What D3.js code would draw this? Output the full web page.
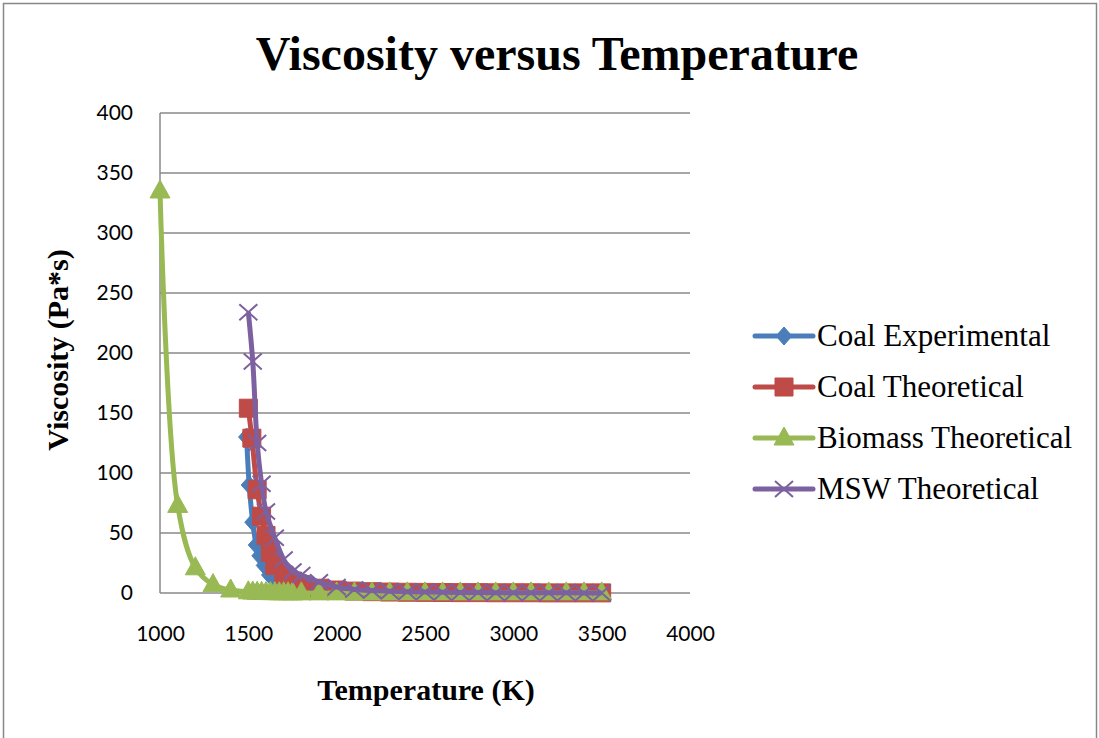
<!DOCTYPE html>
<html>
<head>
<meta charset="utf-8">
<script src="https://cdn.jsdelivr.net/npm/d3@7/dist/d3.min.js"></script>
<style>
  body { margin: 0; background: #fff; }
  svg { display: block; }
</style>
</head>
<body>
<svg id="chart" width="1099" height="738"></svg>
<script>
// chart values
var xTicks = [1000, 1500, 2000, 2500, 3000, 3500, 4000];
var yTicks = [0, 50, 100, 150, 200, 250, 300, 350, 400];

var coalExpT = [1490, 1505, 1525, 1545, 1565, 1590, 1620, 1660, 1700, 1750, 1800];
var coalExpV = [130, 90, 59, 40, 31, 23, 15, 10, 6, 4, 2.5];

var coalThT = [1500, 1520, 1550, 1575, 1600, 1625, 1650, 1700, 1750, 1800,
  1900, 2000, 2100, 2200, 2300, 2400, 2500, 2600, 2700, 2800, 2900, 3000, 3100, 3200, 3300, 3400, 3500];
var coalThV = [154, 129, 86, 64, 48, 34, 23, 15, 10, 7,
  4, 2.5, 1.6, 1.1, 0.8, 0.6, 0.5, 0.4, 0.3, 0.3, 0.2, 0.2, 0.2, 0.1, 0.1, 0.1, 0.1];

var biomassT = [1000, 1100, 1200, 1300, 1400, 1500, 1525, 1550, 1575, 1600, 1625, 1650, 1675, 1700, 1725, 1750,
  1800, 1900, 2000, 2100, 2200, 2300, 2400, 2500, 2600, 2700, 2800, 2900, 3000, 3100, 3200, 3300, 3400, 3500];
var biomassV = [335, 73, 21, 7, 2.5, 1, 0.8, 0.6, 0.5, 0.4, 0.3, 0.3, 0.2, 0.2, 0.2, 0.1,
  0.1, 0.1, 0.1, 0.1, 0.1, 0.1, 0.1, 0.1, 0.1, 0.1, 0.1, 0.1, 0.1, 0.1, 0.1, 0.1, 0.1, 0.1];

var mswT = [1500, 1525, 1550, 1575, 1600, 1650, 1700, 1750, 1800,
  1900, 2000, 2100, 2200, 2300, 2400, 2500, 2600, 2700, 2800, 2900, 3000, 3100, 3200, 3300, 3400, 3500];
var mswV = [234, 193, 125, 91, 68, 46, 28, 18, 15,
  9, 5, 3, 2, 1.4, 1, 0.8, 0.6, 0.5, 0.4, 0.3, 0.3, 0.2, 0.2, 0.2, 0.1, 0.1];

var seriesNames = ['Coal Experimental', 'Coal Theoretical', 'Biomass Theoretical', 'MSW Theoretical'];
var seriesColors = ['#4A7EBB', '#BE4B48', '#98B954', '#7D60A0'];
var seriesMarkers = ['diamond', 'square', 'triangle', 'cross'];

var series = [
  { name: seriesNames[0], t: coalExpT, v: coalExpV, color: seriesColors[0], marker: seriesMarkers[0] },
  { name: seriesNames[1], t: coalThT, v: coalThV, color: seriesColors[1], marker: seriesMarkers[1] },
  { name: seriesNames[2], t: biomassT, v: biomassV, color: seriesColors[2], marker: seriesMarkers[2] },
  { name: seriesNames[3], t: mswT, v: mswV, color: seriesColors[3], marker: seriesMarkers[3] }
];

var svg = d3.select('#chart');
var serif = '"Liberation Serif", "Times New Roman", serif';

// outer chart frame
svg.append('rect')
  .attr('x', 3.5).attr('y', 3.5)
  .attr('width', 1093).attr('height', 800)
  .attr('fill', '#fff')
  .attr('stroke', '#888').attr('stroke-width', 1.5);

var x = d3.scaleLinear().domain([1000, 4000]).range([160, 690]);
var y = d3.scaleLinear().domain([0, 400]).range([593, 113]);

// gridlines
svg.append('g')
  .selectAll('line')
  .data(yTicks)
  .enter().append('line')
  .attr('x1', x(1000)).attr('x2', x(4000))
  .attr('y1', function(d) { return y(d); })
  .attr('y2', function(d) { return y(d); })
  .attr('stroke', '#888').attr('stroke-width', 1.5);

// vertical axis line
svg.append('line')
  .attr('x1', x(1000)).attr('x2', x(1000))
  .attr('y1', y(400)).attr('y2', y(0))
  .attr('stroke', '#888').attr('stroke-width', 1.5);

var yAxis = svg.append('g')
  .attr('transform', 'translate(' + x(1000) + ',0)')
  .call(d3.axisLeft(y).tickValues(yTicks).tickSize(0).tickPadding(27));
yAxis.select('.domain').remove();

var xAxis = svg.append('g')
  .attr('transform', 'translate(0,' + y(0) + ')')
  .call(d3.axisBottom(x).tickValues(xTicks).tickFormat(d3.format('d')).tickSize(0).tickPadding(33));
xAxis.select('.domain').remove();

svg.selectAll('.tick text')
  .attr('font-family', 'Lato, "Open Sans", sans-serif')
  .attr('font-size', 21)
  .attr('fill', '#000');

// titles
svg.append('text')
  .attr('x', 557).attr('y', 70)
  .attr('text-anchor', 'middle')
  .attr('font-family', serif)
  .attr('font-weight', 'bold')
  .attr('font-size', 48)
  .text('Viscosity versus Temperature');

svg.append('text')
  .attr('transform', 'translate(68,350) rotate(-90)')
  .attr('text-anchor', 'middle')
  .attr('font-family', serif)
  .attr('font-weight', 'bold')
  .attr('font-size', 30)
  .text('Viscosity (Pa*s)');

svg.append('text')
  .attr('x', 426).attr('y', 700)
  .attr('text-anchor', 'middle')
  .attr('font-family', serif)
  .attr('font-weight', 'bold')
  .attr('font-size', 30)
  .text('Temperature (K)');

function markerPath(kind) {
  if (kind === 'diamond') return 'M0,-9L8,0L0,9L-8,0Z';
  if (kind === 'square') return 'M-9,-9H9V9H-9Z';
  if (kind === 'triangle') return 'M0,-11L10,7L-10,7Z';
  return 'M-9,-8L9,8M-9,8L9,-8';
}

function drawMarker(g, kind, color, cx, cy) {
  var p = g.append('path')
    .attr('d', markerPath(kind))
    .attr('transform', 'translate(' + cx + ',' + cy + ')');
  if (kind === 'cross') {
    p.attr('fill', 'none').attr('stroke', color).attr('stroke-width', 2);
  } else {
    p.attr('fill', color).attr('stroke', color).attr('stroke-width', 1);
  }
}

var line = d3.line()
  .x(function(d) { return x(d[0]); })
  .y(function(d) { return y(d[1]); })
  .curve(d3.curveCatmullRom.alpha(0.5));

series.forEach(function(s) {
  var pts = s.t.map(function(t, i) { return [t, s.v[i]]; });
  var g = svg.append('g');
  g.append('path')
    .datum(pts)
    .attr('d', line)
    .attr('fill', 'none')
    .attr('stroke', s.color)
    .attr('stroke-width', 5)
    .attr('stroke-linejoin', 'round');
  pts.forEach(function(p) {
    drawMarker(g, s.marker, s.color, x(p[0]), y(p[1]));
  });
});

// legend
var legend = svg.append('g');
series.forEach(function(s, i) {
  var cy = 336 + i * 51;
  legend.append('line')
    .attr('x1', 755).attr('x2', 813)
    .attr('y1', cy).attr('y2', cy)
    .attr('stroke', s.color).attr('stroke-width', 5)
    .attr('stroke-linecap', 'round');
  drawMarker(legend, s.marker, s.color, 784, cy);
  legend.append('text')
    .attr('x', 817).attr('y', cy + 10)
    .attr('font-family', serif)
    .attr('font-size', 31)
    .attr('fill', '#000')
    .text(s.name);
});
</script>
</body>
</html>
